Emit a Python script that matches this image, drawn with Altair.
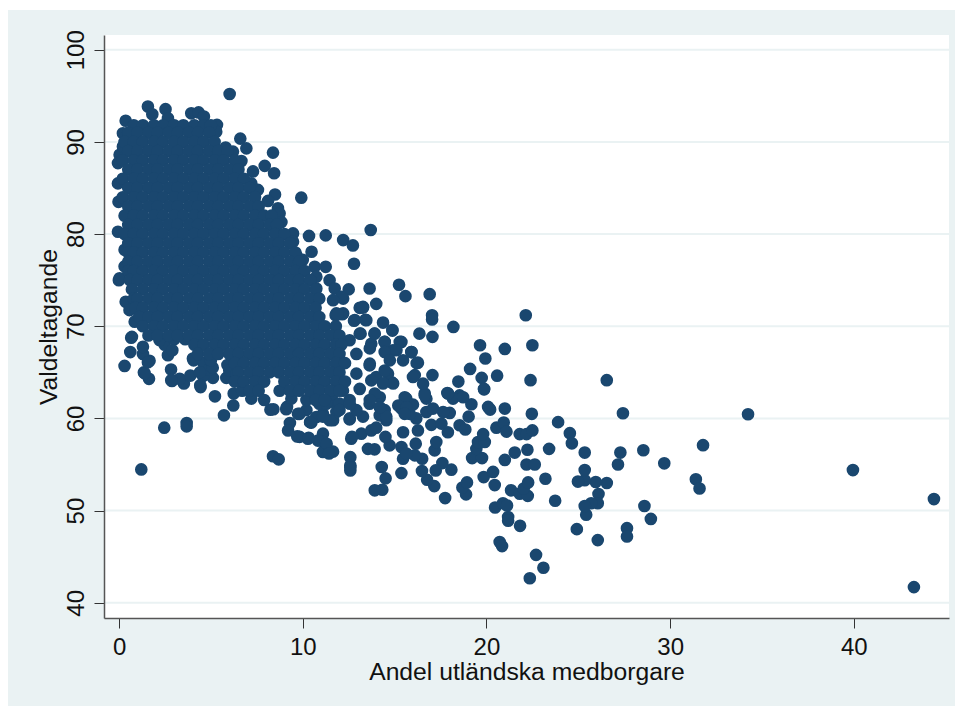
import altair as alt
import pandas as pd

# Outlying and loosely packed municipalities
sparse_points = [
(39.95,54.4),(44.36,51.25),(43.27,41.7),(34.24,60.46),(31.79,57.1),(29.68,55.13),(28.54,56.55),(27.29,56.3),
(27.16,55),(28.6,50.5),(28.95,49.1),(31.4,53.4),(31.6,52.4),(27.65,48.1),(27.65,47.2),(26.06,46.8),(26.55,53),
(26.55,64.15),(27.43,60.56),(25.95,53.1),(26.1,51.8),(26.06,50.8),(25.7,50.8),(25.35,53.3),(24.98,53.15),(25.35,54.4),
(25.35,56.3),(24.54,58.4),(24.65,57.3),(23.9,59.6),(23.41,56.7),(23.21,53.46),(23.74,51.07),(25.43,49.55),(25.35,50.5),
(24.92,47.99),(22.36,42.66),(23.1,43.8),(22.7,45.2),(20.72,46.6),(20.85,46.15),(21.83,48.35),(21.18,49.3),(21.18,48.9),
(20.47,50.34),(20.9,50.8),(21.12,50.56),(17.75,51.36),(18.89,51.76),(18.69,52.5),(18.94,53.06),(21.34,52.2),(21.81,51.83),
(22.25,51.6),(22.03,52.4),(22.27,53.06),(22.18,55),(22.63,55),(21.0,55.5),(21.54,56.3),(22.23,56.6),(20.45,52.77),
(19.85,53.64),(20.36,54.2),(19.22,55.7),(19.76,55.7),(19.45,56.7),(19.54,57.44),(19.91,57.44),(19.82,58.3),(21.81,58.3),
(22.18,58.3),(22.5,58.7),(20.54,59),(20.94,59.55),(21.09,58.57),(21,61.07),(20.09,61.25),(20.2,60.96),(19.87,63.16),
(22.47,60.5),(22.4,64.15),(22.14,71.2),(22.5,67.94),(21,67.54),(20.58,64.64),(19.65,67.94),(19.94,66.5),(19.11,65.37),
(19.74,64.4),(19.87,63.2),(18.47,64),(17.87,62.75),(18.54,62.5),(18.09,54.44),(17.6,55.16),(17.24,54.36),(17.16,52.66),
(16.77,53.35),(16.49,54.3),(15.37,54.07),(14.51,53.5),(14.3,54.73),(14.33,52.26),(13.92,52.2),(12.59,55.8),(12.59,54.36),
(12.59,54.9),(16.5,55.63),(16.1,56),(15.46,55.63),(15.37,56.9),(15.64,56.2),(16.15,57.26),(17.18,56.54),(17.27,57.44),
(14.73,57.08),(14.5,58),(13.55,56.7),(13.91,56.65),(12.64,57.8),(13.19,58.35),(13.73,58.7),(14,59),(15.46,58.5),
(16.27,58.7),(17,59.3),(17.9,58.5),(17.55,59.44),(18.54,59.26),(18.85,58.8),(19.03,60.2),(18,60.6),(17.64,60.7),
(19.18,61.54),(18.18,62.15),(18.73,62.3),(17.91,62.7),(16.73,60.7),(17.09,61.07),(16.18,60),(15.82,60.5),(15.37,61.07),
(16,61.5),(15.64,62.15),(16.64,62.7),(16.73,62.15),(14.55,59.8),(14.19,60.34),(14.46,60.9),(13.28,60.2),(12.55,59.9),
(11.65,59.8),(10.47,59.55),(11.1,58.35),(10.28,57.8),(11.14,57.44),(11.46,56.36),(11.1,56.36),(11.65,56.4),(9.83,58),
(10.2,60.9),(11.1,60.5),(11.83,60.7),(10.9,61.6),(11.65,61.8),(12.55,62),(13.64,61.6),(14.19,62.3),
(1.21,54.47),(2.46,59),(3.68,59.5),(3.68,59.14),(5.71,60.34),(5.22,62.4),(8.24,60.95),(6.22,61.4),(6.24,62.7),(7.2,62.15),
(4.44,63.4),(3.53,63.8),(2.88,64.07),(3.3,64.3),(3.88,64.65),(5.11,64.4),(5.84,64.4),(4.57,64.6),(2.83,65.3),(1.63,64.3),
(1.35,65),(1.66,66.25),(1.3,67),(0.3,65.7),(0.61,67.2),(0.66,68.75),(4.06,66.3),(2.66,66.86),(2.48,68),(-0.01,75),
(0.36,72.65),(0.57,71.75),(0.85,70.5),(8.38,55.9),(8.69,55.56),(9.3,59.5),(9.2,58.7),(9.7,58.05),(10.32,57.9),(10.83,57.6),
(11.3,57.25),(11.43,56.2),(12.59,54.7),(12.68,58),(10.41,59.6),(10.74,60.16),(11.47,59.8),(12.56,60),(9.14,61.25),(9.83,60.5),
(8.74,63),(9.38,62.15),(10.2,62),(11.65,62.7),(11.29,61.6),(12,61.6),(12.92,60.9),(12.5,74),(12.2,73),(11.83,71.4),(12.2,71.4),
(12.83,70.67),(13.1,72),(13.7,80.44),(10.34,79.8),(11.25,79.86),(12.2,79.35),(12.73,78.77),(10.48,78.08),(12.79,76.78),
(9.92,83.95),(15.24,74.5),(15.59,73.27),(16.91,73.48),(13.64,74.1),(14,72.43),(13.28,72.03),(17.04,71.2),(17.04,70.73),
(18.2,69.93),(16.35,69.2),(17.06,68.85),(14.37,70.4),(14.88,69.53),(13.41,70.7),(12.79,70.6),(13.15,69.2),(13.9,69.2),
(12.15,71.3),(11.79,71.2),(10.65,76.45),(11.25,76.45),(10.74,75.37),(11.46,75),(11.74,74.1),(10.74,74.1),(12.1,73.2),(11.65,72.83),
(17.06,64.7),(16.1,64.7),(16.55,63.77),(16.64,62.5),(16.27,66.05),(15.91,67.2),(15.37,68.3),(14.91,67.4),(14.46,68.3),(13.73,68.1),
(15.46,66.3),(14.82,63.95),(13.64,65.76),(14.64,64.86),(13.73,64.13),(12.92,64.86),(12.92,67),(12.55,68.48),(13.92,62.7),(15.55,62.3),
(12.19,63),(6.02,95.2),(1.57,93.84),(2.53,93.55),(1.81,93),(0.36,92.3),(0.21,90.94),(3.93,93.1),(4.33,93.2),(4.62,92.75),(2.66,92.57),
(5.33,91.85),(5.29,91.1),(4.57,91.7),(6.6,90.36),(5.8,89.4),(6.93,89.3),(8.38,88.84),(7.93,87.4),(8.44,86.6),(7.29,86.8),(6.66,87.93),
(6.2,88.95),(8.49,84.3),(8.11,83.6),(7.56,84.8),(7.2,85.5),(8.65,82.8),(8.74,82.25),(8.84,81.3),(9.47,80.07),(9.47,79.17),(9.65,77.7),
(10,77.2),(0.03,88.6),(-0.06,87.7),(-0.06,85.5),(-0.03,83.5),(-0.06,80.25),(0.21,89.5),(0.3,78.3),(0.3,76.5),(0.03,75.2),
(13.65,65.95),(14.46,68.3),(13.92,69.2),(14.88,69.6),(15.28,68.3),(15.92,67.2),(14.46,67.2),(15.1,67.4),(13.65,67.6),(16.2,66),
(14,64.5),(14.92,63.8),(14.46,65.2),(14.74,66.3),(16,64.5),(13.65,62),(14.55,60.2),(15.2,61.4),(11.1,60.2),(12,60.9),(10.4,59.6),
(9.74,60.5),(9.1,61),(8.4,61),(13.1,63.2),(12.56,61.6),(14.37,63.8),(14.2,61.2),(15.64,61.2),(15.55,60.5),(13.1,69.2),(13.46,70.66),
(13.28,72.1),(11.9,71.3),(0.7,68.85),(1.39,64.9),(1.57,66.1),(1.3,67.77),(2.84,64.15),(4.42,63.6),(4.02,66.5),(2.2,68.5),
(3.0,68.6),(3.6,68.6),(6.7,63),(4.6,66),(4.9,65.3),(5.1,65.5),(5.9,65.8),(4.4,65),(6.0,65.2),(2.9,67.4),(5.0,66.3),(6.4,64.9),
]

# The solid mass cannot be told apart point by point: its extent per turnout level
core_rows = [
(91.8,[0.8,1.3,1.9,2.4,3.0,3.5,4.1,4.6,5.0]),
(91,[0.5,1.0,1.6,2.1,2.7,3.2,3.8,4.3,4.9]),
(90,[0.3,0.8,1.3,1.9,2.4,3.0,3.5,4.1,4.6,5.2]),
(89,[0.5,1.0,1.6,2.1,2.7,3.2,3.8,4.3,4.9,5.4,5.9]),
(88,[0.2,0.8,1.3,1.9,2.4,3.0,3.5,4.1,4.6,5.2,5.7,6.3]),
(87,[0.5,1.0,1.6,2.1,2.7,3.2,3.8,4.3,4.9,5.4,6.0,6.5]),
(86,[0.2,0.8,1.3,1.9,2.4,3.0,3.5,4.1,4.6,5.2,5.7,6.3,6.8]),
(85,[0.5,1.0,1.6,2.1,2.7,3.2,3.8,4.3,4.9,5.4,6.0,6.5,7.1]),
(84,[0.2,0.8,1.3,1.9,2.4,3.0,3.5,4.1,4.6,5.2,5.7,6.3,6.8,7.4]),
(83,[0.5,1.0,1.6,2.1,2.7,3.2,3.8,4.3,4.9,5.4,6.0,6.5,7.1,7.6]),
(82,[0.3,0.8,1.3,1.9,2.4,3.0,3.5,4.1,4.6,5.2,5.7,6.3,6.8,7.4,7.9,8.3]),
(81,[0.5,1.0,1.6,2.1,2.7,3.2,3.8,4.3,4.9,5.4,6.0,6.5,7.1,7.6,8.2,8.6]),
(80,[0.3,0.8,1.3,1.9,2.4,3.0,3.5,4.1,4.6,5.2,5.7,6.3,6.8,7.4,7.9,8.5,9.0]),
(79,[0.5,1.0,1.6,2.1,2.7,3.2,3.8,4.3,4.9,5.4,6.0,6.5,7.1,7.6,8.2,8.7,9.3]),
(78,[0.5,0.8,1.3,1.9,2.4,3.0,3.5,4.1,4.6,5.2,5.7,6.3,6.8,7.4,7.9,8.5,9.0,9.6]),
(77,[0.5,1.0,1.6,2.1,2.7,3.2,3.8,4.3,4.9,5.4,6.0,6.5,7.1,7.6,8.2,8.7,9.3,9.8]),
(76,[0.5,0.8,1.3,1.9,2.4,3.0,3.5,4.1,4.6,5.2,5.7,6.3,6.8,7.4,7.9,8.5,9.0,9.6,10.1]),
(75,[0.6,1.0,1.6,2.1,2.7,3.2,3.8,4.3,4.9,5.4,6.0,6.5,7.1,7.6,8.2,8.7,9.3,9.8,10.4]),
(74,[0.7,1.3,1.9,2.4,3.0,3.5,4.1,4.6,5.2,5.7,6.3,6.8,7.4,7.9,8.5,9.0,9.6,10.1,10.7]),
(73,[0.8,1.0,1.6,2.1,2.7,3.2,3.8,4.3,4.9,5.4,6.0,6.5,7.1,7.6,8.2,8.7,9.3,9.8,10.4,10.9]),
(72,[0.9,1.3,1.9,2.4,3.0,3.5,4.1,4.6,5.2,5.7,6.3,6.8,7.4,7.9,8.5,9.0,9.6,10.1,10.7]),
(71,[1.1,1.6,2.1,2.7,3.2,3.8,4.3,4.9,5.4,6.0,6.5,7.1,7.6,8.2,8.7,9.3,9.8,10.4,10.9]),
(70,[1.3,1.9,2.4,3.0,3.5,4.1,4.6,5.2,5.7,6.3,6.8,7.4,7.9,8.5,9.0,9.6,10.1,10.7,11.2,11.8]),
(69,[1.6,2.1,2.7,3.2,3.8,4.3,4.9,5.4,6.0,6.5,7.1,7.6,8.2,8.7,9.3,9.8,10.4,10.9,11.5,12.0]),
(68,[4.1,4.6,5.2,5.7,6.3,6.8,7.4,7.9,8.5,9.0,9.6,10.1,10.7,11.2,11.8,12.1]),
(67,[4.3,4.9,5.4,6.0,6.5,7.1,7.6,8.2,8.7,9.3,9.8,10.4,10.9,11.5,12.0]),
(66,[6.3,6.8,7.4,7.9,8.5,9.0,9.6,10.1,10.7,11.2,11.8,12.3]),
(65,[6.5,7.1,7.6,8.2,8.7,9.3,9.8,10.4,10.9,11.5,12.0]),
(64,[6.3,6.8,7.4,7.9,9.0,9.6,10.1,10.7,11.2,11.8,12.3]),
(63,[7.1,7.6,9.3,9.8,10.4,10.9,11.5,12.0]),
(62,[7.9,10.7,11.2]),
]

x_ticks = [0, 10, 20, 30, 40]
y_ticks = [40, 50, 60, 70, 80, 90, 100]
x_title = "Andel utländska medborgare"
y_title = "Valdeltagande"

BG = "#eaf2f3"
NAVY = "#1a476f"
W, H = 845, 583

rows = [{"x": a, "y": b} for a, b in sparse_points]
rows += [{"x": a, "y": y} for y, xs in core_rows for a in xs]
points = pd.DataFrame(rows)
grid = pd.DataFrame({"y": y_ticks})
one = pd.DataFrame({"a": [1]})

x_scale = alt.Scale(domain=[-0.82, 45.18], nice=False, zero=False)
y_scale = alt.Scale(domain=[38.35, 101.6], nice=False, zero=False)

x_axis = alt.Axis(values=x_ticks, title=x_title, grid=False, zindex=1, format="d",
                  domainColor="#555555", domainWidth=1.5, tickColor="#333333", tickSize=10, tickWidth=1,
                  labelFont="Liberation Sans", labelFontSize=24, labelColor="#111111", labelPadding=7,
                  titleFont="Liberation Sans", titleFontSize=24.7, titleFontWeight="normal", titleColor="#111111",
                  titlePadding=0)
y_axis = alt.Axis(values=y_ticks, title=y_title, grid=False, zindex=1, format="d",
                  domainColor="#555555", domainWidth=1.5, tickColor="#333333", tickSize=10, tickWidth=1,
                  labelFont="Liberation Sans", labelFontSize=24, labelColor="#111111", labelPadding=6,
                  labelAngle=270, labelAlign="center", labelBaseline="bottom",
                  titleFont="Liberation Sans", titleFontSize=24.7, titleFontWeight="normal", titleColor="#111111",
                  titlePadding=3)

outer = alt.Chart(one).mark_rect(color=BG).encode(
    x=alt.value(-96), x2=alt.value(851), y=alt.value(-25), y2=alt.value(671))
panel = alt.Chart(one).mark_rect(color="white").encode(
    x=alt.value(0), x2=alt.value(W), y=alt.value(0), y2=alt.value(H))
rules = alt.Chart(grid).mark_rule(color=BG, strokeWidth=2).encode(
    y=alt.Y("y:Q", scale=y_scale, axis=y_axis), x=alt.value(0), x2=alt.value(W))
dots = alt.Chart(points).mark_point(filled=True, shape="circle", size=160, color=NAVY, opacity=1).encode(
    x=alt.X("x:Q", scale=x_scale, axis=x_axis),
    y=alt.Y("y:Q", scale=y_scale, axis=y_axis))

chart = alt.layer(outer, panel, rules, dots).properties(
    width=W, height=H,
    autosize=alt.AutoSizeParams(type="none", contains="content"),
    padding={"left": 96, "top": 27, "right": 6, "bottom": 88},
    background="white",
).configure_view(stroke=None)

chart.save("out.html", embed_options={"renderer": "svg", "actions": False})
